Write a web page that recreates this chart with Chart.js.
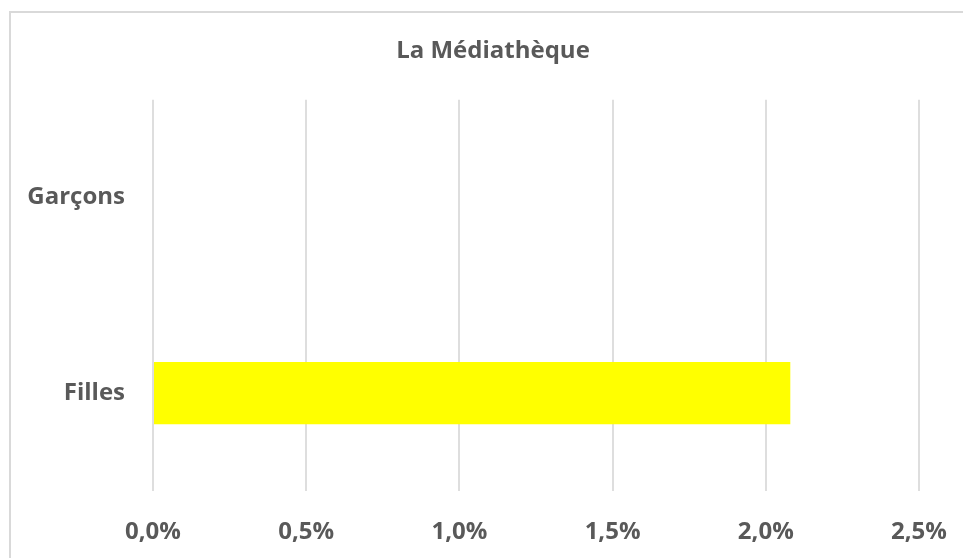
<!DOCTYPE html>
<html>
<head>
<meta charset="utf-8">
<script src="https://cdn.jsdelivr.net/npm/chart.js@4"></script>
<style>
  html, body { margin: 0; padding: 0; background: #fff; overflow: hidden; }
  #wrap { width: 963px; height: 558px; position: relative; }
</style>
</head>
<body>
<div id="wrap"><canvas id="media"></canvas></div>
<script>
// data
const categories = ['Garçons', 'Filles'];
const values = [0, 2.08];   // percent
const xTicks = [0, 0.5, 1, 1.5, 2, 2.5];

const grey = '#595959';
const font = { family: 'Open Sans', size: 24, weight: 'bold' };

// light frame round the chart, like the office export
const frame = {
    id: 'frame',
    afterLayout(chart) {
        // the original title sits a bit right of the canvas centre
        if (chart.titleBlock) chart.titleBlock.left = 67;
    },
    beforeDraw(chart) {
        const c = chart.ctx;
        c.save();
        c.fillStyle = '#fff';
        c.fillRect(0, 0, chart.width, chart.height);
        c.strokeStyle = '#d9d9d9';
        c.lineWidth = 2;
        c.strokeRect(10, 12, chart.width + 20, chart.height + 20);
        c.restore();
    }
};

const ctx = document.getElementById('media').getContext('2d');
const media = new Chart(ctx, {
    type: 'bar',
    data: {
        labels: categories,
        datasets: [{
            data: values,
            backgroundColor: '#ffff00',
            borderWidth: 0,
            categoryPercentage: 1,
            barPercentage: 0.318
        }]
    },
    options: {
        indexAxis: 'y',
        responsive: true,
        maintainAspectRatio: false,
        animation: false,
        layout: { padding: { left: 0, right: 44, top: 0, bottom: 0 } },
        plugins: {
            legend: { display: false },
            tooltip: { enabled: false },
            title: {
                display: true,
                text: 'La Médiathèque',
                color: grey,
                font: font,
                padding: { top: 37, bottom: 34 }
            }
        },
        scales: {
            x: {
                min: 0,
                max: 2.5,
                afterBuildTicks: (s) => { s.ticks = xTicks.map(v => ({ value: v })); },
                afterFit: (s) => { s.height = 67; s.paddingLeft = 0; s.paddingRight = 0; },
                grid: { color: '#dedede', lineWidth: 2, drawTicks: false },
                border: { display: false },
                ticks: {
                    color: grey,
                    font: font,
                    padding: 27,
                    maxRotation: 0,
                    callback: (v) => v.toFixed(1).replace('.', ',') + '%'
                }
            },
            y: {
                afterFit: (s) => { s.width = 153; },
                grid: { display: false, drawTicks: false },
                border: { display: false },
                ticks: { color: grey, font: font, padding: 28 }
            }
        }
    },
    plugins: [frame]
});
</script>
</body>
</html>
